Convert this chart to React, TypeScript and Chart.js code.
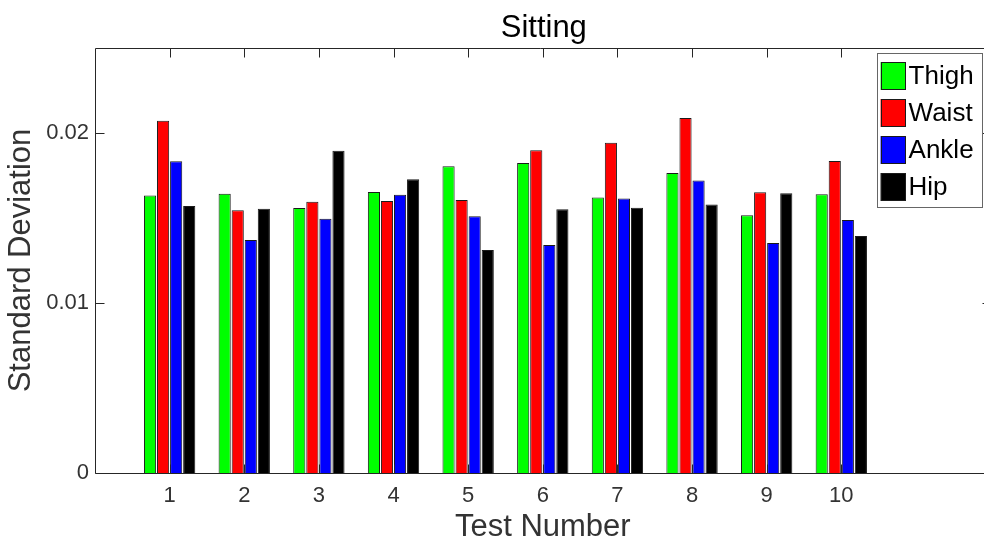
import React, { useEffect, useRef } from 'react';
import { Chart, registerables } from 'chart.js';

Chart.register(...registerables);

const TITLE = 'Sitting';
const X_TITLE = 'Test Number';
const Y_TITLE = 'Standard Deviation';
const TESTS = [1, 2, 3, 4, 5, 6, 7, 8, 9, 10];
const X_TICK_LABELS = ['1', '2', '3', '4', '5', '6', '7', '8', '9', '10'];
const X_LIMIT = 12;
const Y_TICKS = [0, 0.01, 0.02];
const Y_TICK_LABELS = ['0', '0.01', '0.02'];
const SERIES_NAMES = ['Thigh', 'Waist', 'Ankle', 'Hip'];
const THIGH = [0.01633, 0.01643, 0.01559, 0.01653, 0.01804, 0.01824, 0.0162, 0.01765, 0.01516, 0.01639];
const WAIST = [0.02072, 0.01545, 0.01596, 0.016, 0.01606, 0.01898, 0.01943, 0.02088, 0.01651, 0.01835];
const ANKLE = [0.01834, 0.01371, 0.01496, 0.01637, 0.0151, 0.01341, 0.01614, 0.0172, 0.01353, 0.01488];
const HIP = [0.01571, 0.01555, 0.01896, 0.01728, 0.01312, 0.01551, 0.01561, 0.0158, 0.01645, 0.01394];
const SERIES = [THIGH, WAIST, ANKLE, HIP];
const COLORS = ['#00ff00', '#ff0000', '#0000ff', '#000000'];

const FONT = '"Liberation Sans", Arial, Helvetica, sans-serif';
const AXIS_COLOR = '#262626';
const TEXT_COLOR = '#333333';

const matlabFrame = {
  id: 'matlabFrame',
  afterDatasetsDraw(chart: any) {
    const ctx = chart.ctx;
    const { left, top, bottom } = chart.chartArea;
    const xs = chart.scales.x;
    const ys = chart.scales.y;
    const right = xs.getPixelForValue(X_LIMIT);
    const L = 9;
    ctx.save();
    ctx.strokeStyle = AXIS_COLOR;
    ctx.lineWidth = 1;
    const l = Math.round(left) + 0.5;
    const t = Math.round(top) + 0.5;
    const b = Math.round(bottom) + 0.5;
    const r = Math.round(right) + 0.5;
    ctx.beginPath();
    ctx.moveTo(l, t); ctx.lineTo(r, t);
    ctx.moveTo(l, b); ctx.lineTo(r, b);
    ctx.moveTo(l, t); ctx.lineTo(l, b);
    ctx.moveTo(r, t); ctx.lineTo(r, b);
    TESTS.forEach((v) => {
      const px = Math.round(xs.getPixelForValue(v)) + 0.5;
      ctx.moveTo(px, t); ctx.lineTo(px, t + L);
      ctx.moveTo(px, b); ctx.lineTo(px, b - L);
    });
    Y_TICKS.forEach((v) => {
      const py = Math.round(ys.getPixelForValue(v)) + 0.5;
      ctx.moveTo(l, py); ctx.lineTo(l + L, py);
      ctx.moveTo(r, py); ctx.lineTo(r - L, py);
    });
    ctx.stroke();
    ctx.restore();
  },
  afterDraw(chart: any) {
    const ctx = chart.ctx;
    const { left, top } = chart.chartArea;
    const xs = chart.scales.x;
    const right = xs.getPixelForValue(X_LIMIT);
    const cx = (left + right) / 2;
    ctx.save();
    // title
    ctx.fillStyle = '#000000';
    ctx.font = `31px ${FONT}`;
    ctx.textAlign = 'center';
    ctx.textBaseline = 'middle';
    ctx.fillText(TITLE, cx + 1, 28);
    // x axis title
    ctx.fillStyle = TEXT_COLOR;
    ctx.font = `31px ${FONT}`;
    ctx.fillText(X_TITLE, cx, 527);
    // legend
    const bx = right - 114;
    const by = top + 5;
    const bw = 105;
    const bh = 154;
    ctx.fillStyle = '#ffffff';
    ctx.fillRect(bx, by, bw, bh);
    ctx.strokeStyle = '#666666';
    ctx.lineWidth = 1;
    ctx.strokeRect(Math.round(bx) + 0.5, Math.round(by) + 0.5, bw, bh);
    chart.data.datasets.forEach((ds: any, i: number) => {
      const sy = by + 9 + i * 37;
      ctx.fillStyle = ds.backgroundColor;
      ctx.fillRect(bx + 4, sy, 25, 28);
      ctx.strokeStyle = '#1a1a1a';
      ctx.strokeRect(Math.round(bx + 4) + 0.5, Math.round(sy) + 0.5, 24, 27);
      ctx.fillStyle = '#000000';
      ctx.font = `26px ${FONT}`;
      ctx.textAlign = 'left';
      ctx.textBaseline = 'middle';
      ctx.fillText(ds.label, bx + 32, sy + 15);
    });
    ctx.restore();
  },
};

export default function App() {
  const ref = useRef<HTMLCanvasElement | null>(null);
  useEffect(() => {
    if (!ref.current) return;
    const chart = new Chart(ref.current, {
      type: 'bar',
      data: {
        datasets: SERIES.map((vals, si) => ({
          label: SERIES_NAMES[si],
          data: TESTS.map((t, i) => ({ x: t, y: vals[i] })),
          backgroundColor: COLORS[si],
          borderColor: '#1a1a1a',
          borderWidth: 1,
          categoryPercentage: 0.7,
          barPercentage: 0.93,
        })),
      },
      options: {
        responsive: false,
        animation: false,
        devicePixelRatio: 1,
        layout: { padding: { top: 48, right: 0, bottom: 0, left: 0 } },
        plugins: { legend: { display: false }, tooltip: { enabled: false }, title: { display: false } },
        scales: {
          x: {
            type: 'linear',
            min: 0,
            // the axes box ends just past the right edge of the picture (at x = 12)
            max: X_LIMIT - 0.088,
            offset: false,
            grid: { display: false, drawTicks: false },
            border: { display: false },
            afterBuildTicks: (s: any) => {
              s.ticks = TESTS.map((v) => ({ value: v }));
            },
            afterFit: (s: any) => {
              s.height = 72;
            },
            ticks: {
              autoSkip: false,
              maxRotation: 0,
              padding: 10,
              color: TEXT_COLOR,
              font: { family: FONT, size: 22 },
              callback: (_v: any, i: number) => X_TICK_LABELS[i],
            },
            title: { display: false },
          },
          y: {
            type: 'linear',
            min: 0,
            max: 0.025,
            grid: { display: false, drawTicks: false },
            border: { display: false },
            afterBuildTicks: (s: any) => {
              s.ticks = Y_TICKS.map((v) => ({ value: v }));
            },
            afterFit: (s: any) => {
              s.width = 95;
            },
            ticks: {
              padding: 6,
              color: TEXT_COLOR,
              font: { family: FONT, size: 22 },
              callback: (_v: any, i: number) => Y_TICK_LABELS[i],
            },
            title: {
              display: true,
              text: Y_TITLE,
              color: TEXT_COLOR,
              font: { family: FONT, size: 31 },
              padding: { top: 3, bottom: 0 },
            },
          },
        },
      } as any,
      plugins: [matlabFrame],
    });
    return () => chart.destroy();
  }, []);
  return (
    <div style={{ position: 'absolute', left: 0, top: 0, width: 984, height: 545, background: '#ffffff' }}>
      <canvas ref={ref} width={984} height={545} style={{ display: 'block' }} />
    </div>
  );
}
